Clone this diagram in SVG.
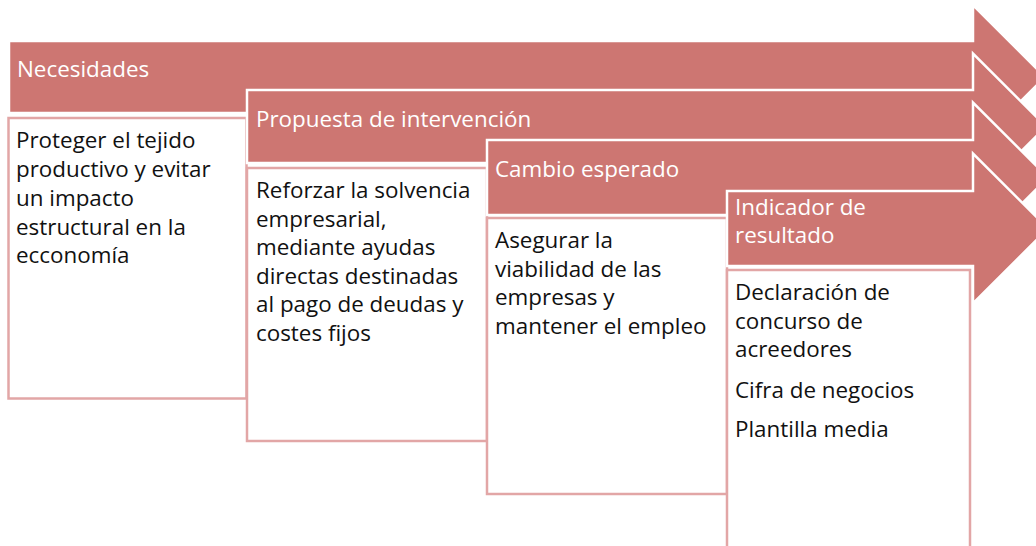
<svg xmlns="http://www.w3.org/2000/svg" width="1036" height="546" viewBox="0 0 1036 546">
<style>
.arrow{fill:#cd7672;stroke:#ffffff;stroke-width:2.5;stroke-linejoin:miter}
.box{fill:#ffffff;stroke:#e2a6a6;stroke-width:2.5}
.h{font-family:"Open Sans","Noto Sans",sans-serif;font-size:22.4px;fill:#ffffff}
.t{font-family:"Open Sans","Noto Sans",sans-serif;font-size:22.4px;fill:#111111}
</style>
<rect width="1036" height="546" fill="#ffffff"/>
<g id="node-necesidades">
<path class="arrow" d="M9,41 H973 V5 L1045,77 L973,149 V113 H9 Z"/>
<text class="h" x="17" y="77">Necesidades</text>
</g>
<g id="box-necesidades">
<rect class="box" x="8.5" y="118" width="238" height="280.5"/>
<text class="t" x="16" y="148">Proteger el tejido</text>
<text class="t" x="16" y="177">productivo y evitar</text>
<text class="t" x="16" y="206">un impacto</text>
<text class="t" x="16" y="235">estructural en la</text>
<text class="t" x="16" y="263">ecconomía</text>
</g>
<g id="node-propuesta">
<path class="arrow" d="M247,90 H973 V53.5 L1046,126.5 L973,199.5 V163 H247 Z"/>
<text class="h" x="256" y="127">Propuesta de intervención</text>
</g>
<g id="box-propuesta">
<rect class="box" x="247" y="168" width="240" height="273"/>
<text class="t" x="256" y="198">Reforzar la solvencia</text>
<text class="t" x="256" y="226.5">empresarial,</text>
<text class="t" x="256" y="255">mediante ayudas</text>
<text class="t" x="256" y="283.5">directas destinadas</text>
<text class="t" x="256" y="312">al pago de deudas y</text>
<text class="t" x="256" y="340.5">costes fijos</text>
</g>
<g id="node-cambio">
<path class="arrow" d="M487,140 H973 V102.5 L1048,177.5 L973,252.5 V215 H487 Z"/>
<text class="h" x="495" y="177">Cambio esperado</text>
</g>
<g id="box-cambio">
<rect class="box" x="487" y="218" width="240" height="276"/>
<text class="t" x="495" y="248">Asegurar la</text>
<text class="t" x="495" y="276.5">viabilidad de las</text>
<text class="t" x="495" y="305">empresas y</text>
<text class="t" x="495" y="333.5">mantener el empleo</text>
</g>
<g id="node-indicador">
<path class="arrow" d="M727,191 H973 V153.5 L1048,228.5 L973,303.5 V266 H727 Z"/>
<text class="h" x="735" y="215">Indicador de</text>
<text class="h" x="735" y="243">resultado</text>
</g>
<g id="box-indicador">
<rect class="box" x="727" y="270" width="243" height="290"/>
<text class="t" x="735" y="300">Declaración de</text>
<text class="t" x="735" y="328.5">concurso de</text>
<text class="t" x="735" y="357">acreedores</text>
<text class="t" x="735" y="398">Cifra de negocios</text>
<text class="t" x="735" y="437">Plantilla media</text>
</g>
<g id="connectors"></g>
</svg>
